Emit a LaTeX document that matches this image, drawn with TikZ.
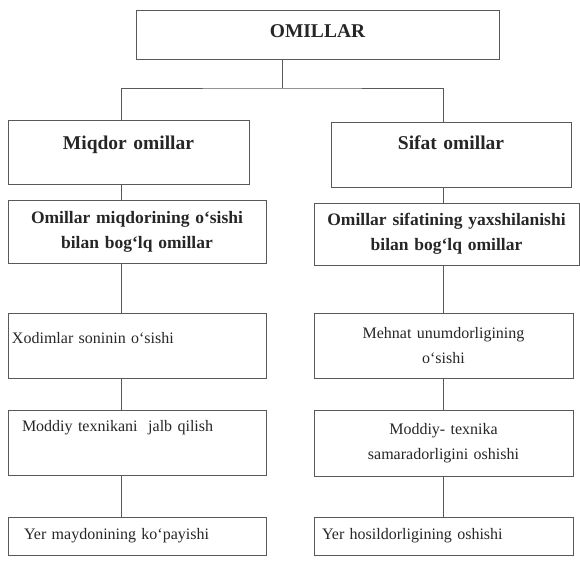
\documentclass[tikz,border=0pt]{standalone}
\usepackage{fontspec}
\setmainfont{Liberation Serif}
\usepackage{xcolor}
\usepackage{tikz}

\begin{document}
\begin{tikzpicture}[x=1pt,y=-1pt,line width=1pt]
	\tikzset{frame/.style={draw=black!65, inner sep=0pt, align=center, text=black!85},
		big one/.style={frame, font=\fontsize{19.5}{24}\selectfont\bfseries},
		mid one/.style={frame, font=\fontsize{17.5}{25}\selectfont\bfseries},
		plain one/.style={frame, font=\fontsize{16}{25}\selectfont},
		link/.style={draw=black!65}}
	\useasboundingbox (0,0) rectangle (580,563);

	\node[big one, anchor=north, text width=363pt, text height=26.5pt, text depth=22.5pt] (omillar) at (317.5,10) {OMILLAR};
	\node[big one, anchor=north, text width=241pt, text height=28.5pt, text depth=35.5pt] (miqdor) at (128.5,120) {Miqdor omillar};
	\node[big one, anchor=north, text width=240pt, text height=26.5pt, text depth=38.5pt] (sifat) at (451,122) {Sifat omillar};

	\node[mid one, text width=258pt, minimum height=63pt] (miqdor bog) at (137,231.5) {Omillar miqdorining o‘sishi\\bilan bog‘lq omillar};
	\node[mid one, text width=265pt, minimum height=62pt] (sifat bog) at (446.5,234) {Omillar sifatining yaxshilanishi\\bilan bog‘lq omillar};

	\node[plain one, anchor=north, align=left, inner xsep=4pt, text width=250pt, text height=29.5pt, text depth=35.5pt] (xodim) at (137,313) {Xodimlar soninin o‘sishi};
	\node[plain one, text width=259pt, minimum height=65pt] (mehnat) at (443.5,345.5) {Mehnat unumdorligining\\o‘sishi};

	\node[plain one, anchor=north, align=left, inner xsep=14pt, text width=230pt, text height=20.5pt, text depth=44.5pt] (texnika) at (137,410) {Moddiy texnikani\ \ jalb qilish};
	\node[plain one, text width=259pt, minimum height=66pt] (samara) at (443.5,443) {Moddiy- texnika\\samaradorligini oshishi};

	\node[plain one, align=left, inner xsep=16pt, text width=226pt, minimum height=38pt] (maydon) at (137,536) {Yer maydonining ko‘payishi};
	\node[plain one, align=left, inner xsep=8pt, text width=243pt, minimum height=38pt] (hosil) at (443.5,536) {Yer hosildorligining oshishi};

	\coordinate (split) at (282,88);
	\coordinate (lcol) at (121,0);
	\coordinate (rcol) at (443,0);

	\draw[link] (omillar.south -| split) -- (split);
	\draw[link] (miqdor.north -| lcol) |- (split) -| (sifat.north -| rcol);

	\draw[link] (miqdor.south -| lcol) -- (miqdor bog.north -| lcol);
	\draw[link] (miqdor bog.south -| lcol) -- (xodim.north -| lcol);
	\draw[link] (xodim.south -| lcol) -- (texnika.north -| lcol);
	\draw[link] (texnika.south -| lcol) -- (maydon.north -| lcol);

	\draw[link] (sifat.south -| rcol) -- (sifat bog.north -| rcol);
	\draw[link] (sifat bog.south -| rcol) -- (mehnat.north -| rcol);
	\draw[link] (mehnat.south -| rcol) -- (samara.north -| rcol);
	\draw[link] (samara.south -| rcol) -- (hosil.north -| rcol);
\end{tikzpicture}
\end{document}
